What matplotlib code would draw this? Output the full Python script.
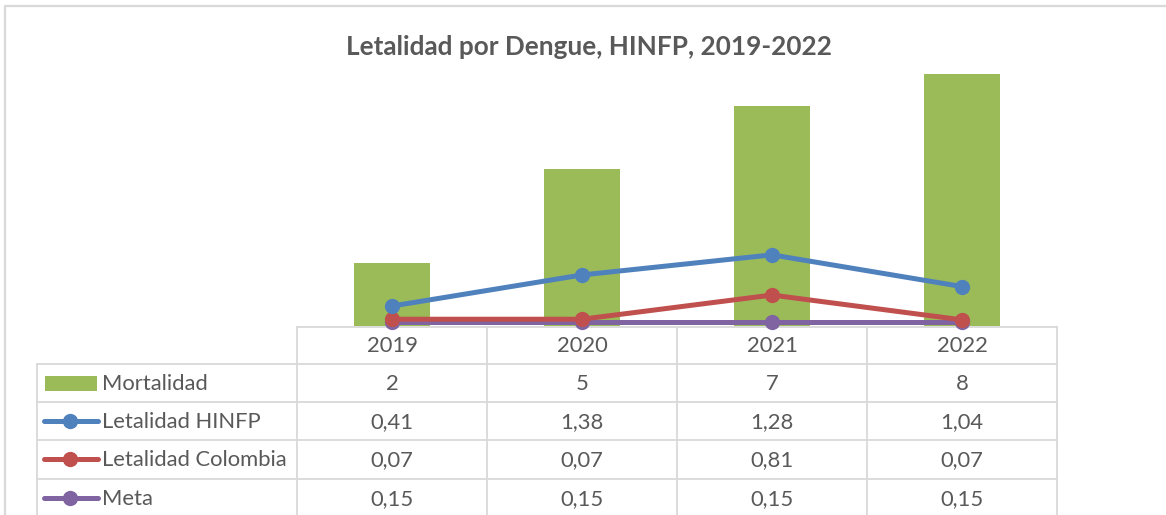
import matplotlib
matplotlib.use("Agg")
import matplotlib.pyplot as plt
from matplotlib.patches import Rectangle
from matplotlib.lines import Line2D

plt.rcParams['font.family'] = ['Lato', 'DejaVu Sans']

years = ["2019", "2020", "2021", "2022"]
mortalidad = [2, 5, 7, 8]

# values as drawn in the chart
letalidad_hinfp_plot = [0.62, 1.61, 2.25, 1.24]
letalidad_colombia_plot = [0.20, 0.20, 0.97, 0.18]
meta_plot = [0.12, 0.12, 0.12, 0.12]

# values as printed in the data table
table_rows = [
    ("Mortalidad", ["2", "5", "7", "8"]),
    ("Letalidad HINFP", ["0,41", "1,38", "1,28", "1,04"]),
    ("Letalidad Colombia", ["0,07", "0,07", "0,81", "0,07"]),
    ("Meta", ["0,15", "0,15", "0,15", "0,15"]),
]

title = "Letalidad por Dengue, HINFP, 2019-2022"

green = "#9BBB59"
blue = "#4F81BD"
red = "#C0504D"
purple = "#8064A2"
grid = "#D9D9D9"
txt = "#595959"

W, H = 1166, 515
fig = plt.figure(figsize=(W / 100, H / 100), dpi=100)

# overlay axes in pixel coordinates for frame and data table
ov = fig.add_axes([0, 0, 1, 1])
ov.set_xlim(0, W)
ov.set_ylim(H, 0)
ov.axis("off")

# chart frame
ov.plot([5, 5, 1166], [520, 6, 6], color=grid, lw=1.6, solid_capstyle="butt")

# table geometry
col_x = [297, 487, 677, 867, 1057]
row_y = [326.5, 363.5, 401.5, 440, 478.5, 517]
label_left = 37

lw_t = 1.3
# horizontal lines
ov.plot([col_x[0], col_x[-1]], [row_y[0], row_y[0]], color=grid, lw=lw_t)
for y in row_y[1:]:
    ov.plot([label_left, col_x[-1]], [y, y], color=grid, lw=lw_t)
# vertical lines
for x in col_x:
    ov.plot([x, x], [row_y[0], row_y[-1]], color=grid, lw=lw_t)
ov.plot([label_left, label_left], [row_y[1], row_y[-1]], color=grid, lw=lw_t)

fs = 15.8
for i, yr in enumerate(years):
    cx = (col_x[i] + col_x[i + 1]) / 2
    ov.text(cx, (row_y[0] + row_y[1]) / 2 + 1, yr, ha="center", va="center",
            fontsize=fs, color=txt)

key_styles = [None, blue, red, purple]
for r, (name, vals) in enumerate(table_rows):
    cy = (row_y[r + 1] + row_y[r + 2]) / 2 + 1
    for i, v in enumerate(vals):
        cx = (col_x[i] + col_x[i + 1]) / 2
        ov.text(cx, cy, v, ha="center", va="center", fontsize=fs, color=txt)
    ov.text(102, cy, name, ha="left", va="center", fontsize=fs, color=txt)
    if key_styles[r] is None:
        ov.add_patch(Rectangle((45, cy - 8), 52, 15, color=green, lw=0))
    else:
        ov.add_line(Line2D([44, 98], [cy - 1, cy - 1], color=key_styles[r], lw=3.6,
                           solid_capstyle="round"))
        ov.plot([70], [cy - 1], marker="o", ms=11, color=key_styles[r], mew=0)

ov.text(589, 47, title, ha="center", va="center", fontsize=18.8,
        fontweight="bold", color=txt)

# plot area (same category positions as table columns)
bottom_px = 325.5
scale = 31.4  # px per unit
top_val = 9
ax = fig.add_axes([col_x[0] / W, (H - bottom_px) / H,
                   (col_x[-1] - col_x[0]) / W, top_val * scale / H])
ax.patch.set_alpha(0)
ax.set_xlim(-0.5, len(years) - 0.5)
ax.set_ylim(0, top_val)
ax.axis("off")

xs = range(len(years))
ax.bar(xs, mortalidad, width=0.4, color=green, zorder=1)
ax.plot(xs, meta_plot, color=purple, lw=3.6, marker="o", ms=11, mew=0,
        zorder=2, clip_on=False)
ax.plot(xs, letalidad_colombia_plot, color=red, lw=3.6, marker="o", ms=11, mew=0,
        zorder=3, clip_on=False)
ax.plot(xs, letalidad_hinfp_plot, color=blue, lw=3.6, marker="o", ms=11, mew=0,
        zorder=4, clip_on=False)

fig.savefig("out.png", dpi=100)
